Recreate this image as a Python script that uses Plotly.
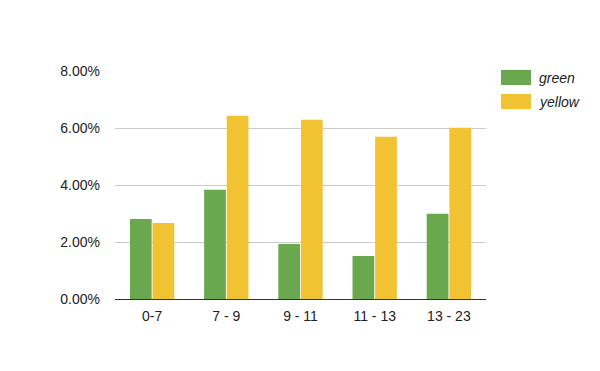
import plotly.graph_objects as go

# Data
categories = ["0-7", "7 - 9", "9 - 11", "11 - 13", "13 - 23"]
green_vals = [0.0281, 0.0383, 0.0193, 0.0151, 0.0299]
yellow_vals = [0.0267, 0.0643, 0.0629, 0.0569, 0.0601]
series_names = ["green", "yellow"]
colors = ["#6aa84f", "#f1c232"]

fig = go.Figure()
for name, vals, col in zip(series_names, [green_vals, yellow_vals], colors):
    fig.add_trace(go.Bar(x=categories, y=vals, name=name, marker_color=col,
                         marker_line_width=0, showlegend=False))

# legend drawn as wide swatches like the original
for i, (name, col) in enumerate(zip(series_names, colors)):
    y0 = 300 - 71 - i * 24
    fig.add_shape(type="rect", xref="paper", yref="paper",
                  x0=(501 - 115) / 371, x1=(531 - 115) / 371,
                  y0=(y0 - 15) / 228, y1=y0 / 228,
                  fillcolor=col, line_width=0)
    fig.add_annotation(xref="paper", yref="paper", x=(537 - 115) / 371,
                       y=(y0 - 7.5) / 228, text="<i>%s</i>" % name,
                       showarrow=False, xanchor="left", yanchor="middle",
                       font=dict(size=14, color="#222222"))

# page body has an 8px margin, so shift the plot area back
fig.update_layout(
    width=600, height=371,
    margin=dict(l=107, r=122, t=63, b=80),
    paper_bgcolor="white", plot_bgcolor="white",
    font=dict(family="Arial, Liberation Sans, sans-serif", size=14, color="#222222"),
    barmode="group", bargap=0.39, bargroupgap=0.04,
)
fig.update_xaxes(showgrid=False, showline=True, linecolor="#333333", linewidth=1,
                 ticks="", ticklabelstandoff=4, tickfont=dict(size=14, color="#222222"))
fig.update_yaxes(range=[0, 0.08], dtick=0.02, tickformat=".2%",
                 gridcolor="#cccccc", gridwidth=1, zeroline=False,
                 showline=False, ticks="", ticklabelstandoff=14,
                 tickfont=dict(size=14, color="#222222"))

fig.write_html("out.html")
